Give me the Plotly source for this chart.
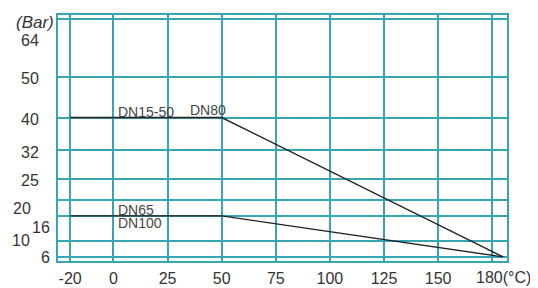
import plotly.graph_objects as go

# ---- data ----
x_ticks = [-20, 0, 25, 50, 75, 100, 125, 150]
x_tick_labels = ["-20", "0", "25", "50", "75", "100", "125", "150"]
x_extra_grid = [175]
x_end_label = "180(°C)"
x_end_value = 180

y_ticks = [64, 50, 40, 32, 25, 20, 16, 10, 6]
y_tick_labels = ["64", "50", "40", "32", "25", "20", "16", "10", "6"]
y_unit = "(Bar)"

temp_a = [-20, 50, 180]
pres_a = [40, 40, 6]          # DN15-50, DN80
temp_b = [-20, 50, 180]
pres_b = [16, 16, 6]          # DN65, DN100

series_labels = ["DN15-50", "DN80", "DN65", "DN100"]

# ---- styling ----
GRID = "#36a6b5"
INK = "#333333"
FONT = "Liberation Sans, Arial, sans-serif"

fig = go.Figure()
fig.add_trace(go.Scatter(x=temp_a, y=pres_a, mode="lines",
                         line=dict(color="#222222", width=1.4), hoverinfo="skip"))
fig.add_trace(go.Scatter(x=temp_b, y=pres_b, mode="lines",
                         line=dict(color="#222222", width=1.4), hoverinfo="skip"))

# y labels (placed as annotations to mimic the staggered layout)
y_xshift = {"64": -17, "50": -17, "40": -17, "32": -17, "25": -17,
            "20": -25, "16": -6, "10": -26, "6": -6}
y_yshift = {"64": -21, "50": -2, "40": -2, "32": -2, "25": -1,
            "20": -9, "16": -12, "10": 0, "6": -1}
ann = []
for v, t in zip(y_ticks, y_tick_labels):
    ann.append(dict(x=0, xref="paper", y=v, yref="y", text=t, showarrow=False,
                    xanchor="right", yanchor="middle",
                    xshift=y_xshift[t], yshift=y_yshift[t],
                    font=dict(family=FONT, size=16, color=INK)))
ann.append(dict(x=0, xref="paper", y=1, yref="paper", text="<i>" + y_unit + "</i>",
                showarrow=False, xanchor="right", yanchor="middle",
                xshift=-2, yshift=-7, font=dict(family=FONT, size=17, color=INK)))
ann.append(dict(x=x_end_value, xref="x", y=0, yref="paper", text=x_end_label,
                showarrow=False, xanchor="center", yanchor="top", yshift=-6,
                font=dict(family=FONT, size=16, color=INK)))

# series labels
lab_pos = [(1, 41.3), (34.6, 41.8), (1, 17.4), (1, 14.2)]
for t, (lx, ly) in zip(series_labels, lab_pos):
    ann.append(dict(x=lx, y=ly, xref="x", yref="y", text=t, showarrow=False,
                    xanchor="left", yanchor="middle",
                    font=dict(family=FONT, size=14, color="#444444")))

# page body has an 8px default margin, so the figure is 8px smaller
fig.update_layout(
    width=530, height=280,
    margin=dict(l=50, r=31, t=7, b=27),
    paper_bgcolor="white", plot_bgcolor="white",
    showlegend=False,
    annotations=ann,
    xaxis=dict(range=[-25.6, 181.8], tickmode="array",
               tickvals=x_ticks + x_extra_grid,
               ticktext=x_tick_labels + [""] * len(x_extra_grid),
               showgrid=True, gridcolor=GRID, gridwidth=1.5,
               showline=True, linecolor=GRID, linewidth=1.5, mirror=True,
               zeroline=False, ticks="", automargin=False,
               ticklabelstandoff=2,
               tickfont=dict(family=FONT, size=16, color=INK)),
    yaxis=dict(range=[5, 65], tickmode="array", tickvals=y_ticks,
               showticklabels=False, automargin=False,
               showgrid=True, gridcolor=GRID, gridwidth=1.5,
               showline=True, linecolor=GRID, linewidth=1.5, mirror=True,
               zeroline=False, ticks=""),
)

fig.write_html("out.html")
